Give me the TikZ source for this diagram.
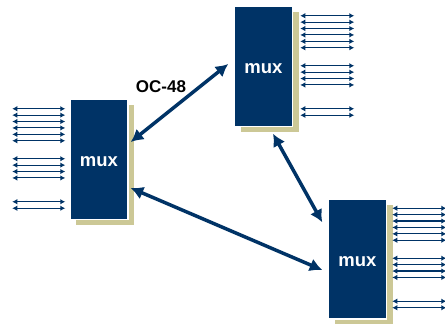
\documentclass[tikz,border=0pt]{standalone}
\usepackage{fontspec}
\setmainfont{Liberation Sans}
\usetikzlibrary{arrows.meta,shadows,calc}
\definecolor{navy}{RGB}{0,51,102}
\definecolor{khaki}{RGB}{204,200,150}
\tikzstyle{mux} = [draw=white, line width=1.5pt, fill=navy, text=white, rectangle, minimum width=58pt, minimum height=120pt, text height=15pt, text depth=0pt, font=\fontsize{18.5}{20}\selectfont\bfseries, drop shadow={shadow xshift=6pt, shadow yshift=-6pt, fill=khaki, opacity=1}]
\tikzstyle{link} = [draw=navy, line width=3.5pt, {Latex[length=12.5pt,width=13.5pt]}-{Latex[length=12.5pt,width=13.5pt]}]
\tikzstyle{port} = [draw=navy, line width=1.1pt, {Latex[length=5pt,width=5.5pt]}-{Latex[length=5pt,width=5.5pt]}]
\begin{document}
\begin{tikzpicture}[x=1pt, y=1pt]
        \useasboundingbox (0,0) rectangle (445,324);
        \node[mux] (lmux) at (99,164.5) {mux};
        \node[mux] (tmux) at (263.5,257.5) {mux};
        \node[mux] (bmux) at (357.5,65) {mux};
        % tributaries
        \foreach \dy in {10,16.4,22.8,29.2,35.6,42,60,66.4,72.8,79.2,103,109.5} {
            \draw[port] ($(lmux.north west)+(-4,-\dy)$) -- +(-53,0);
            \draw[port] ($(tmux.north east)+(7,-\dy)$) -- +(54,0);
            \draw[port] ($(bmux.north east)+(5,-\dy)$) -- +(54,0);
        }
        % ring
        \path[link] ([shift={(2,17.5)}]lmux.east) -- ([shift={(-5.5,2.5)}]tmux.west);
        \path[link] ([shift={(2,-28.5)}]lmux.east) -- ([shift={(-5.5,-11)}]bmux.west);
        \path[link] ([shift={(9.5,-6.5)}]tmux.south) -- ([shift={(-5.5,-24)}]bmux.north west);
        \node[font=\fontsize{17}{20}\selectfont\bfseries] (oc) at (161,237) {OC-48};
    \end{tikzpicture}
\end{document}
